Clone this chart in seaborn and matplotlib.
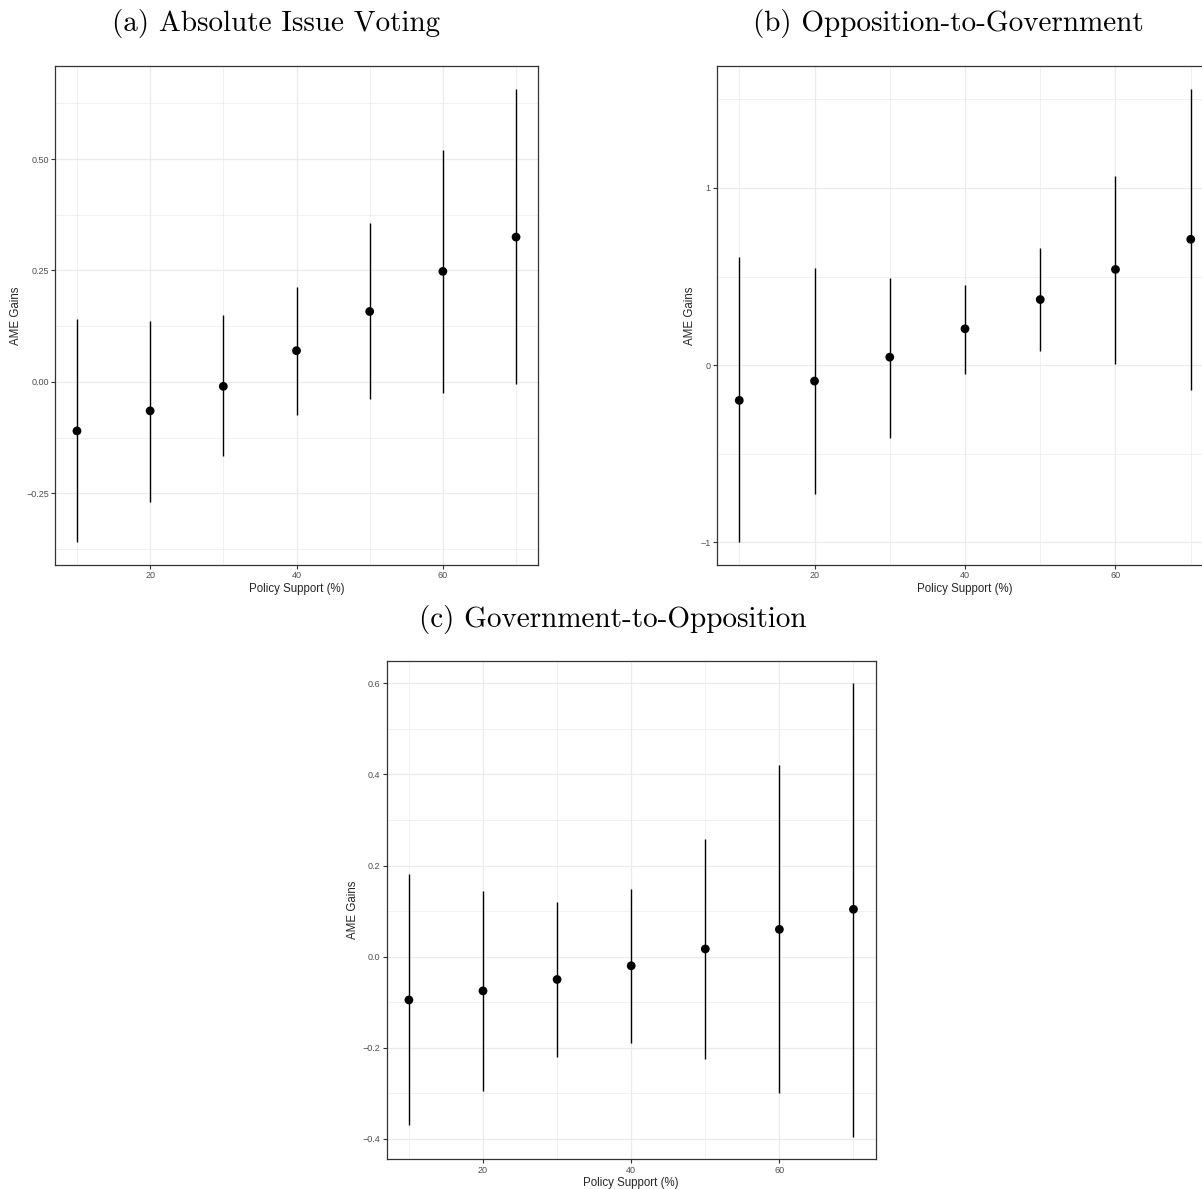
import matplotlib
import numpy as np
import pandas as pd

matplotlib.use('Agg')
import matplotlib.pyplot as plt
from matplotlib.ticker import FixedLocator, FuncFormatter
import seaborn as sns

support = [10, 20, 30, 40, 50, 60, 70]

# (a) Absolute Issue Voting
abs_est = [-0.110, -0.065, -0.010, 0.070, 0.158, 0.248, 0.325]
abs_lo = [-0.360, -0.270, -0.167, -0.074, -0.038, -0.025, -0.005]
abs_hi = [0.142, 0.137, 0.151, 0.212, 0.356, 0.520, 0.658]

# (b) Opposition-to-Government
opp_est = [-0.199, -0.090, 0.045, 0.205, 0.370, 0.540, 0.710]
opp_lo = [-1.000, -0.730, -0.410, -0.050, 0.080, 0.005, -0.140]
opp_hi = [0.610, 0.550, 0.490, 0.450, 0.660, 1.070, 1.560]

# (c) Government-to-Opposition
gov_est = [-0.095, -0.075, -0.050, -0.020, 0.017, 0.060, 0.104]
gov_lo = [-0.370, -0.295, -0.220, -0.190, -0.225, -0.300, -0.395]
gov_hi = [0.182, 0.145, 0.120, 0.148, 0.258, 0.420, 0.600]

sns.set_theme(style="white")
plt.rcParams['font.family'] = ['Liberation Sans', 'DejaVu Sans']

GRID = "#EBEBEB"
FRAME = "#333333"
TICKTXT = "#4D4D4D"


def minus(fmt):
    return FuncFormatter(lambda v, pos: fmt.format(v).replace('-', '\u2212'))


def draw_panel(fig, rect, est, lo, hi, major, minor, fmt):
    ax = fig.add_axes(rect)
    df = pd.DataFrame({"support": support, "est": est, "lo": lo, "hi": hi})
    ax.vlines(df["support"], df["lo"], df["hi"], color="black", lw=1.0, zorder=3)
    sns.scatterplot(data=df, x="support", y="est", color="black", s=40,
                    edgecolor="none", ax=ax, zorder=4)
    # ggplot-like 5% expansion
    r = df["hi"].max() - df["lo"].min()
    ax.set_ylim(df["lo"].min() - 0.05 * r, df["hi"].max() + 0.05 * r)
    ax.set_xlim(7, 73)
    ax.xaxis.set_major_locator(FixedLocator([20, 40, 60]))
    ax.xaxis.set_minor_locator(FixedLocator([10, 30, 50, 70]))
    ax.yaxis.set_major_locator(FixedLocator(major))
    ax.yaxis.set_minor_locator(FixedLocator(minor))
    ax.yaxis.set_major_formatter(minus(fmt))
    ax.grid(True, which="major", color=GRID, lw=0.9, zorder=0)
    ax.grid(True, which="minor", color=GRID, lw=0.5, zorder=0)
    ax.set_axisbelow(True)
    for s in ax.spines.values():
        s.set_color(FRAME)
        s.set_linewidth(0.9)
    ax.tick_params(which="major", length=3, width=0.8, color=FRAME,
                   labelsize=6.5, labelcolor=TICKTXT, pad=1.5,
                   left=True, bottom=True)
    ax.tick_params(which="minor", length=0)
    ax.set_xlabel("Policy Support (%)", fontsize=8.3, labelpad=2)
    ax.set_ylabel("AME Gains", fontsize=8.3, labelpad=3)
    return ax


fig = plt.figure(figsize=(12.02, 11.89), dpi=100)

draw_panel(fig, [0.04576, 0.52481, 0.40183, 0.41968], abs_est, abs_lo, abs_hi,
           [-0.25, 0.0, 0.25, 0.50], [-0.375, -0.125, 0.125, 0.375, 0.625], "{:.2f}")
draw_panel(fig, [0.59626, 0.52481, 0.41314, 0.41968], opp_est, opp_lo, opp_hi,
           [-1, 0, 1], [-0.5, 0.5, 1.5], "{:.0f}")
draw_panel(fig, [0.32171, 0.02498, 0.40682, 0.41934], gov_est, gov_lo, gov_hi,
           [-0.4, -0.2, 0.0, 0.2, 0.4, 0.6], [-0.3, -0.1, 0.1, 0.3, 0.5], "{:.1f}")

title_kw = dict(family="cmr10", fontsize=21, ha="center", va="center", color="black")
fig.text(276 / 1202, 1 - 23 / 1189, "(a) Absolute Issue Voting", **title_kw)
fig.text(948 / 1202, 1 - 23 / 1189, "(b) Opposition-to-Government", **title_kw)
fig.text(613 / 1202, 1 - 619 / 1189, "(c) Government-to-Opposition", **title_kw)

fig.savefig("out.png", dpi=100)
